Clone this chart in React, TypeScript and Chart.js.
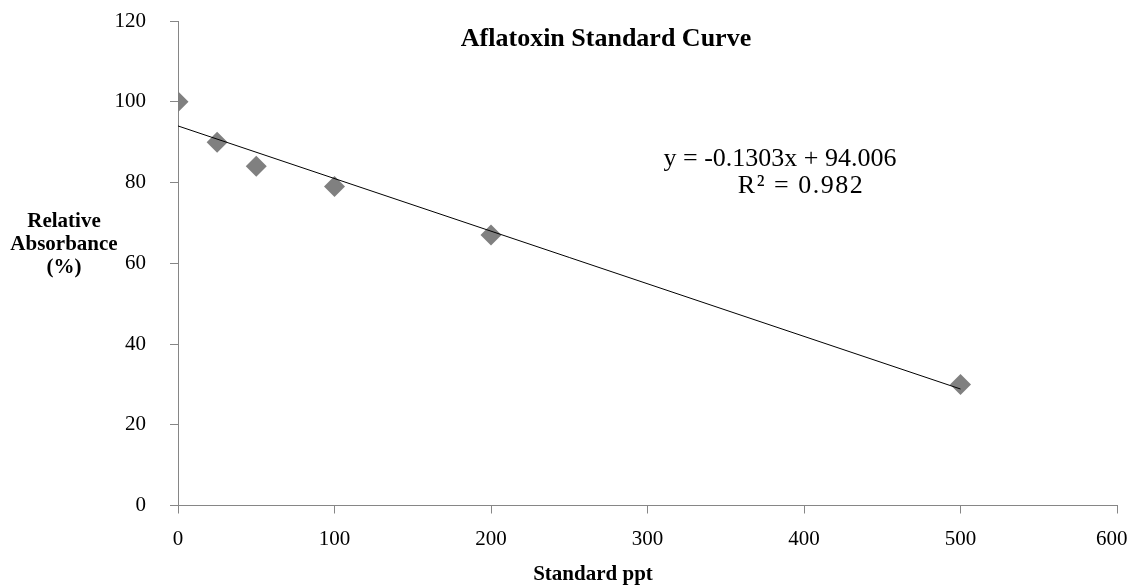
import React, { useEffect, useRef } from "react";
import { Chart, registerables } from "chart.js";

Chart.register(...registerables);

// ---- data ----
const STANDARD_PPT = [0, 25, 50, 100, 200, 500];
const RELATIVE_ABSORBANCE = [100, 90, 84, 79, 67, 30];
const X_TICKS = [0, 100, 200, 300, 400, 500, 600];
const Y_TICKS = [0, 20, 40, 60, 80, 100, 120];
const TREND_SLOPE = -0.1303;
const TREND_INTERCEPT = 94.006;
const TREND_X = [0, 500];
const TITLE = "Aflatoxin Standard Curve";
const X_TITLE = "Standard ppt";
const Y_TITLE_LINES = ["Relative", "Absorbance", "(%)"];
const EQUATION_LINES = ["y = -0.1303x + 94.006", "R² = 0.982"];

const FONT = '"Liberation Serif", "Times New Roman", serif';
const AXIS_COLOR = "#868686";

const textPlugin = {
  id: "textPlugin",
  afterDraw(chart: any) {
    const ctx = chart.ctx;
    ctx.save();
    ctx.fillStyle = "#000";
    ctx.textAlign = "center";
    ctx.textBaseline = "middle";
    ctx.font = `bold 26px ${FONT}`;
    ctx.fillText(TITLE, 606, 39);
    ctx.font = `bold 21px ${FONT}`;
    ctx.fillText(X_TITLE, 593, 575);
    Y_TITLE_LINES.forEach((t, i) => ctx.fillText(t, 64, 222 + i * 23));
    ctx.font = `26px ${FONT}`;
    ctx.fillText(EQUATION_LINES[0], 780, 159.5);
    try {
      (ctx as any).letterSpacing = "1.5px";
    } catch (e) {}
    ctx.fillText(EQUATION_LINES[1], 801, 186);
    ctx.restore();
  },
};

export default function App() {
  const ref = useRef<HTMLCanvasElement>(null);
  useEffect(() => {
    const chart = new Chart(ref.current as HTMLCanvasElement, {
      type: "scatter",
      data: {
        datasets: [
          {
            label: "Trendline",
            type: "line",
            data: TREND_X.map((x) => ({ x, y: TREND_INTERCEPT + TREND_SLOPE * x })),
            borderColor: "#000",
            borderWidth: 1,
            pointRadius: 0,
            showLine: true,
            fill: false,
          } as any,
          {
            label: "Relative Absorbance",
            data: STANDARD_PPT.map((x, i) => ({ x, y: RELATIVE_ABSORBANCE[i] })),
            pointStyle: "rectRot",
            pointRadius: 10.5,
            pointHoverRadius: 10.5,
            backgroundColor: "#808080",
            borderColor: "#808080",
            borderWidth: 0,
          },
        ],
      },
      options: {
        responsive: false,
        animation: false,
        layout: { padding: { left: 0, right: 13, top: 21, bottom: 0 } },
        plugins: {
          legend: { display: false },
          tooltip: { enabled: false },
          title: { display: false },
        },
        scales: {
          x: {
            type: "linear",
            min: 0,
            max: 600,
            afterBuildTicks: (s: any) => {
              s.ticks = X_TICKS.map((v) => ({ value: v }));
            },
            afterFit: (s: any) => {
              s.height = 80.5;
              s.paddingLeft = 0;
              s.paddingRight = 0;
            },
            ticks: {
              font: { family: FONT, size: 21 },
              color: "#000",
              padding: 13,
              maxRotation: 0,
              autoSkip: false,
              callback: (v: any) => (v === X_TICKS[X_TICKS.length - 1] ? `${v}\u2002` : `${v}`),
            },
            grid: { drawOnChartArea: false, drawTicks: true, tickLength: 8, color: AXIS_COLOR },
            border: { display: true, color: AXIS_COLOR, width: 1 },
          },
          y: {
            type: "linear",
            min: 0,
            max: 120,
            afterBuildTicks: (s: any) => {
              s.ticks = Y_TICKS.map((v) => ({ value: v }));
            },
            afterFit: (s: any) => {
              s.width = 178;
              s.paddingTop = 0;
              s.paddingBottom = 0;
            },
            ticks: {
              font: { family: FONT, size: 21 },
              color: "#000",
              padding: 24,
              autoSkip: false,
            },
            grid: { drawOnChartArea: false, drawTicks: true, tickLength: 8, color: AXIS_COLOR },
            border: { display: true, color: AXIS_COLOR, width: 1 },
          },
        },
      },
      plugins: [textPlugin],
    } as any);
    return () => chart.destroy();
  }, []);
  return (
    <div style={{ position: "absolute", left: 0, top: 0, width: 1130, height: 586, background: "#fff" }}>
      <canvas ref={ref} width={1130} height={586} style={{ display: "block" }} />
    </div>
  );
}
